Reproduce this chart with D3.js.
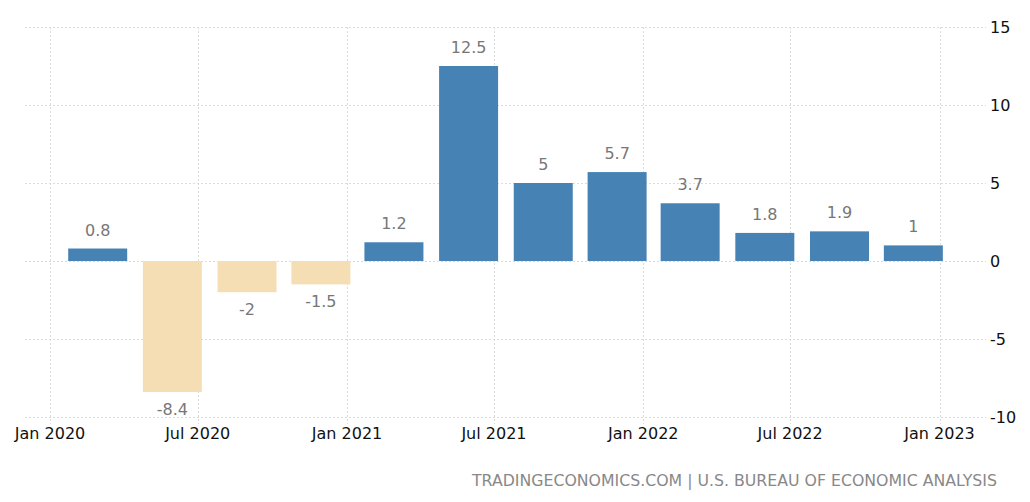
<!DOCTYPE html>
<html>
<head>
<meta charset="utf-8">
<script src="https://cdn.jsdelivr.net/npm/d3@7"></script>
<style>
  html, body { margin: 0; padding: 0; background: #fff; }
  svg { display: block; font-family: "DejaVu Sans", Verdana, sans-serif; }
</style>
</head>
<body>
<svg id="chart" width="1030" height="502"></svg>
<script>
const quarters = ["2020-03-01","2020-06-01","2020-09-01","2020-12-01","2021-03-01","2021-06-01","2021-09-01","2021-12-01","2022-03-01","2022-06-01","2022-09-01","2022-12-01"];
const values = [0.8, -8.4, -2, -1.5, 1.2, 12.5, 5, 5.7, 3.7, 1.8, 1.9, 1];
const xTickDates = ["2020-01-01","2020-07-01","2021-01-01","2021-07-01","2022-01-01","2022-07-01","2023-01-01"];
const xTickLabels = ["Jan 2020","Jul 2020","Jan 2021","Jul 2021","Jan 2022","Jul 2022","Jan 2023"];
const yTicks = [-10, -5, 0, 5, 10, 15];
const sourceText = "TRADINGECONOMICS.COM | U.S. BUREAU OF ECONOMIC ANALYSIS";

const parse = d3.utcParse("%Y-%m-%d");
const svg = d3.select("#chart");

const x = d3.scaleUtc()
  .domain([parse("2020-01-01"), parse("2023-01-01")])
  .range([50, 939.5]);
const y = d3.scaleLinear().domain([-10, 15]).range([417, 27]);

const gridColor = "#dcdcdc";

// horizontal gridlines
svg.append("g").selectAll("line").data(yTicks).join("line")
  .attr("x1", 25).attr("x2", 986)
  .attr("y1", d => Math.round(y(d)) + 0.5).attr("y2", d => Math.round(y(d)) + 0.5)
  .attr("stroke", gridColor).attr("stroke-width", 1).attr("stroke-dasharray", "2,2");

// vertical gridlines
svg.append("g").selectAll("line").data(xTickDates).join("line")
  .attr("x1", d => Math.round(x(parse(d))) + 0.5).attr("x2", d => Math.round(x(parse(d))) + 0.5)
  .attr("y1", 27).attr("y2", 424)
  .attr("stroke", gridColor).attr("stroke-width", 1).attr("stroke-dasharray", "2,2");

// bars
const barW = 59;
const data = quarters.map((q, i) => ({ date: parse(q), value: values[i] }));
svg.append("g").selectAll("rect").data(data).join("rect")
  .attr("x", d => x(d.date) - barW / 2 - 1)
  .attr("width", barW)
  .attr("y", d => d.value >= 0 ? y(d.value) : y(0))
  .attr("height", d => Math.abs(y(d.value) - y(0)))
  .attr("fill", d => d.value >= 0 ? "#4682b4" : "#f5deb3");

// value labels
svg.append("g").selectAll("text").data(data).join("text")
  .attr("x", d => x(d.date) - 1)
  .attr("y", d => d.value >= 0 ? y(d.value) - 13 : y(d.value) + 23)
  .attr("text-anchor", "middle")
  .attr("font-size", 16)
  .attr("fill", "#777")
  .text(d => String(d.value));

// x-axis labels
svg.append("g").selectAll("text").data(xTickDates).join("text")
  .attr("x", d => x(parse(d)))
  .attr("y", 439)
  .attr("text-anchor", "middle")
  .attr("font-size", 16)
  .attr("fill", "#111")
  .text((d, i) => xTickLabels[i]);

// y-axis labels (right)
svg.append("g").selectAll("text").data(yTicks).join("text")
  .attr("x", 990)
  .attr("y", d => y(d) + 6)
  .attr("font-size", 16)
  .attr("fill", "#111")
  .text(d => String(d));

// source
svg.append("text")
  .attr("x", 997).attr("y", 486)
  .attr("text-anchor", "end")
  .attr("font-size", 16)
  .attr("fill", "#888")
  .attr("textLength", 525)
  .attr("lengthAdjust", "spacingAndGlyphs")
  .text(sourceText);
</script>
</body>
</html>
